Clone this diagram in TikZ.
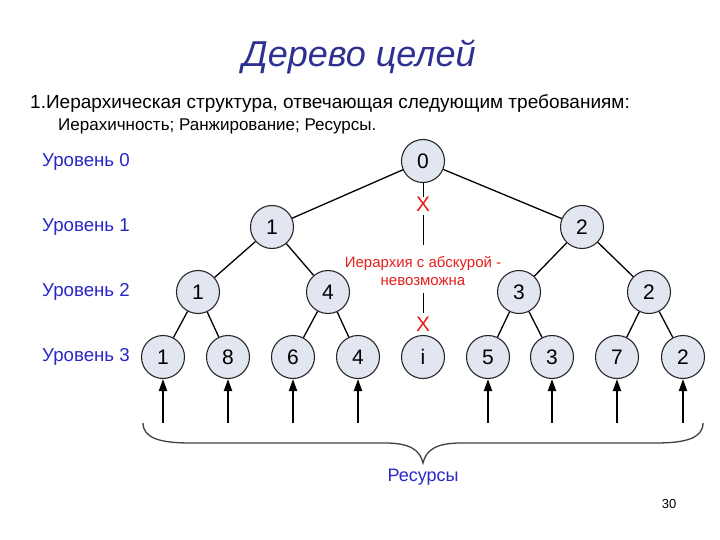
\documentclass[tikz,border=0pt]{standalone}
\usepackage{fontspec}
\setmainfont{Liberation Sans}
\usetikzlibrary{arrows.meta}
\definecolor{nodefill}{RGB}{225,230,240}
\definecolor{titleblue}{RGB}{46,49,146}
\definecolor{lvlblue}{RGB}{40,40,200}
\definecolor{redtxt}{RGB}{230,30,30}
\begin{document}
\begin{tikzpicture}[x=1pt,y=-1pt,
  goal/.style={circle,draw=black!85,fill=nodefill,line width=1.1pt,minimum size=43pt,inner sep=0pt,font=\fontsize{21}{24}\selectfont},
  edge/.style={line width=1.3pt,black},
  lvl/.style={anchor=west,inner sep=0pt,text=lvlblue,font=\fontsize{18.7}{22}\selectfont},
  res/.style={line width=2pt,-{Triangle[width=8pt,length=12pt]}},
  redx/.style={inner sep=0pt,text=redtxt,font=\fontsize{21}{24}\selectfont},
  vline/.style={line width=1pt,black}]
\useasboundingbox (0,0) rectangle (720,540);
\fill[white] (0,0) rectangle (720,540);
% texts
\node[inner sep=0pt,text=titleblue,font=\fontsize{36}{42}\selectfont\itshape] (title) at (359,57) {Дерево целей};
\node[anchor=west,inner sep=0pt,font=\fontsize{19}{22}\selectfont] (req) at (30,104) {1.Иерархическая структура, отвечающая следующим требованиям:};
\node[anchor=west,inner sep=0pt,font=\fontsize{17}{20}\selectfont] (reqs) at (58,126) {Иерахичность; Ранжирование; Ресурсы.};
\node[lvl] (l0) at (42,162) {Уровень 0};
\node[lvl] (l1) at (42,227) {Уровень 1};
\node[lvl] (l2) at (42,292) {Уровень 2};
\node[lvl] (l3) at (42,357) {Уровень 3};
% nodes
\node[goal] (n0) at (423,161) {0};
\node[goal] (a1) at (272,227) {1};
\node[goal] (a2) at (582,227) {2};
\node[goal] (b1) at (198,292) {1};
\node[goal] (b2) at (328,292) {4};
\node[goal] (b3) at (519,292) {3};
\node[goal] (b4) at (649,292) {2};
\node[goal] (c1) at (163,357) {1};
\node[goal] (c2) at (228,357) {8};
\node[goal] (c3) at (293,357) {6};
\node[goal] (c4) at (358,357) {4};
\node[goal] (ci) at (423,357) {i};
\node[goal] (c5) at (488,357) {5};
\node[goal] (c6) at (552,357) {3};
\node[goal] (c7) at (617,357) {7};
\node[goal] (c8) at (683,357) {2};
% edges
\draw[edge] (n0) -- (a1);
\draw[edge] (n0) -- (a2);
\draw[edge] (a1) -- (b1);
\draw[edge] (a1) -- (b2);
\draw[edge] (a2) -- (b3);
\draw[edge] (a2) -- (b4);
\draw[edge] (b1) -- (c1);
\draw[edge] (b1) -- (c2);
\draw[edge] (b2) -- (c3);
\draw[edge] (b2) -- (c4);
\draw[edge] (b3) -- (c5);
\draw[edge] (b3) -- (c6);
\draw[edge] (b4) -- (c7);
\draw[edge] (b4) -- (c8);
% impossible link
\node[redx] (x1) at (423,204) {X};
\node[redx] (x2) at (423,324) {X};
\node[inner sep=0pt,text=redtxt,font=\fontsize{15}{18}\selectfont,align=center] (note) at (423,271) {Иерархия с абскурой -\\невозможна};
\coordinate (v1) at (423,215);
\coordinate (v2) at (423,245);
\coordinate (v3) at (423,293);
\coordinate (v4) at (423,313);
\draw[vline] (n0.south) -- (x1.north);
\draw[vline] (v1) -- (v2);
\draw[vline] (v3) -- (v4);
% resource arrows
\foreach \n in {c1,c2,c3,c4,c5,c6,c7,c8}{
  \coordinate (\n-r) at ([yshift=-44pt]\n.south);
  \draw[res] (\n-r) -- (\n.south);
}
% brace
\draw[line width=1.3pt,black!75] (143,423) .. controls (143,438) and (160,443) .. (190,443) -- (385,443) .. controls (410,443) and (420,450) .. (423,463)
  .. controls (426,450) and (436,443) .. (461,443) -- (656,443) .. controls (686,443) and (703,438) .. (703,423);
\coordinate (brtip) at (423,463);
\node[inner sep=0pt,text=lvlblue,font=\fontsize{18}{20}\selectfont] (res) at (423,477) {Ресурсы};
\node[inner sep=0pt,font=\fontsize{13}{16}\selectfont] (pg) at (669,504) {30};
\end{tikzpicture}
\end{document}
